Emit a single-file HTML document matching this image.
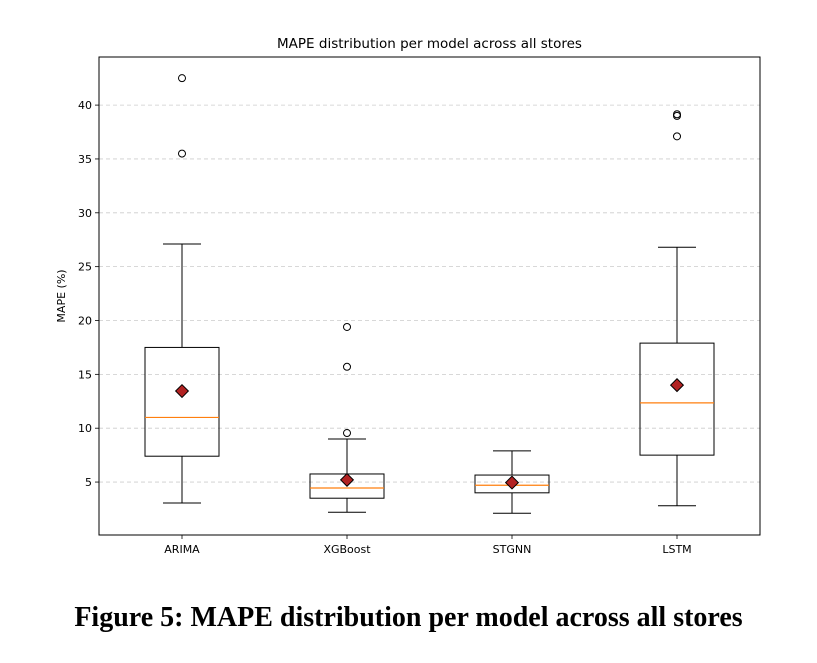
<!DOCTYPE html>
<html><head><meta charset="utf-8"><style>
body{margin:0;background:#fff;}
svg text{font-family:"DejaVu Sans","Liberation Sans",sans-serif;}
.cap{position:absolute;left:0;top:602px;width:817px;text-align:center;font-family:"Liberation Serif",serif;font-weight:bold;font-size:28px;color:#000;white-space:nowrap;}
</style></head><body>
<svg id="chart" width="817" height="663" style="position:absolute;left:0;top:0"></svg>
<div class="cap">Figure 5: MAPE distribution per model across all stores</div>
<script>
const categories=["ARIMA","XGBoost","STGNN","LSTM"];
const whiskerLow=[3.05,2.2,2.1,2.8];
const q1=[7.4,3.5,4.0,7.5];
const median=[11.0,4.45,4.7,12.35];
const q3=[17.5,5.75,5.65,17.9];
const whiskerHigh=[27.1,9.0,7.9,26.8];
const means=[13.45,5.2,4.95,14.0];
const outliers=[[42.5,35.5],[9.55,15.7,19.4],[],[39.15,39.0,37.1]];
const yTicks=[5,10,15,20,25,30,35,40];

const L=99,R=760,T=57,B=535;
const NS="http://www.w3.org/2000/svg";
const svg=document.getElementById('chart');
function y(v){return 535.9-10.77*v;}
function x(i){return 182+i*165;}
function el(tag,attrs,parent){const e=document.createElementNS(NS,tag);for(const k in attrs)e.setAttribute(k,attrs[k]);(parent||svg).appendChild(e);return e;}
yTicks.forEach(t=>{
 const g=el('line',{x1:L,x2:R,y1:y(t),y2:y(t),stroke:'#ccc','stroke-dasharray':'4,3','stroke-width':0.8});
 
 
 el('line',{x1:L-4,x2:L,y1:y(t),y2:y(t),stroke:'#000','stroke-width':0.8});
 const tx=el('text',{x:L-7,y:y(t)+4,'text-anchor':'end','font-size':11,fill:'#000'});
 tx.textContent=t;
 
 
});
categories.forEach((c,i)=>{
 const cx=x(i),hw=37,cw=19;
 const g=el('g',{});
 
 
 el('line',{x1:cx,x2:cx,y1:y(q3[i]),y2:y(whiskerHigh[i]),stroke:'#000','stroke-width':1},g);
 el('line',{x1:cx,x2:cx,y1:y(q1[i]),y2:y(whiskerLow[i]),stroke:'#000','stroke-width':1},g);
 el('line',{x1:cx-cw,x2:cx+cw,y1:y(whiskerHigh[i]),y2:y(whiskerHigh[i]),stroke:'#000','stroke-width':1},g);
 el('line',{x1:cx-cw,x2:cx+cw,y1:y(whiskerLow[i]),y2:y(whiskerLow[i]),stroke:'#000','stroke-width':1},g);
 el('rect',{x:cx-hw,y:y(q3[i]),width:2*hw,height:y(q1[i])-y(q3[i]),fill:'none',stroke:'#000','stroke-width':1},g);
 el('line',{x1:cx-hw,x2:cx+hw,y1:y(median[i]),y2:y(median[i]),stroke:'#ff7f0e','stroke-width':1.2},g);
 const m=el('rect',{x:cx-4.5,y:y(means[i])-4.5,width:9,height:9,fill:'#b22222',stroke:'#000','stroke-width':1,transform:`rotate(45 ${cx} ${y(means[i])})`},g);
 
 
 outliers[i].forEach(o=>{
  const p=el('circle',{cx:cx,cy:y(o),r:3.5,fill:'none',stroke:'#000','stroke-width':1},g);
  
  
 });
 el('line',{x1:cx,x2:cx,y1:B,y2:B+4,stroke:'#000','stroke-width':0.8});
 const tx=el('text',{x:cx,y:B+18,'text-anchor':'middle','font-size':11,fill:'#000'});
 tx.textContent=c;
 
 
});
const frame=el('rect',{x:L,y:T,width:R-L,height:B-T,fill:'none',stroke:'#000','stroke-width':1});


const ti=el('text',{x:(L+R)/2,y:48,'text-anchor':'middle','font-size':13.5,fill:'#000'});
ti.textContent='MAPE distribution per model across all stores';


const yl=el('text',{x:0,y:0,'text-anchor':'middle','font-size':11,fill:'#000',transform:'translate(65 296) rotate(-90)'});
yl.textContent='MAPE (%)';


</script>
</body></html>
